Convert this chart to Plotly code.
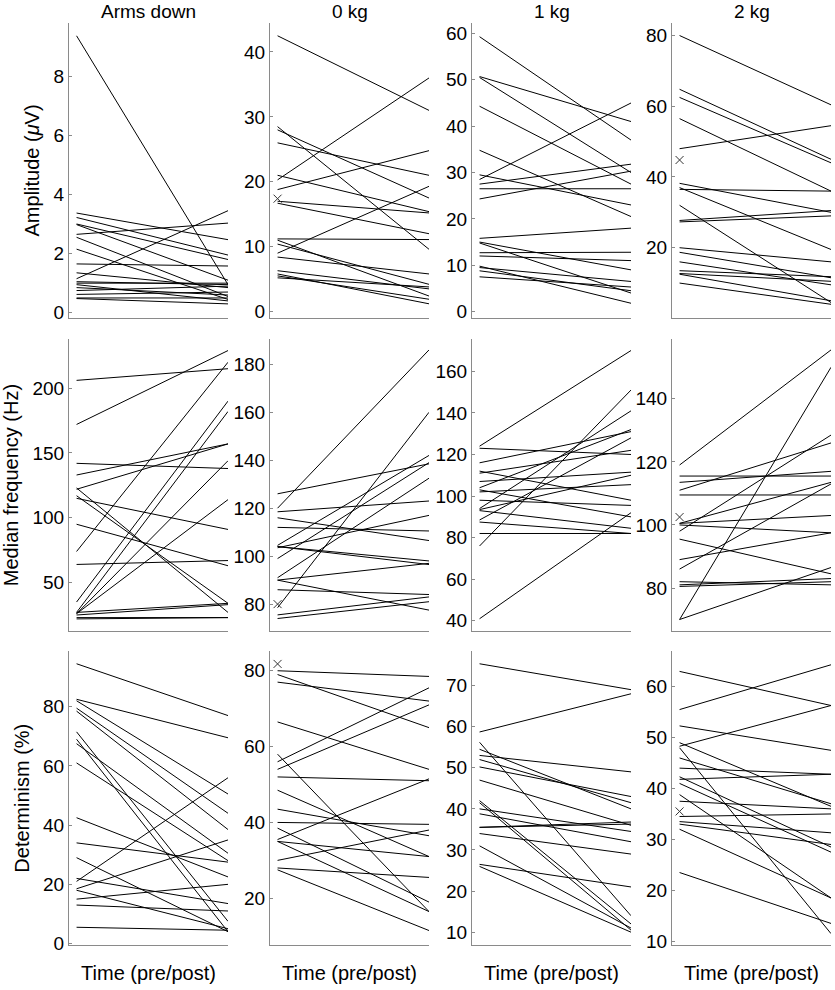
import plotly.graph_objects as go
from plotly.subplots import make_subplots

conditions = ["Arms down", "0 kg", "1 kg", "2 kg"]
measures = ["Amplitude (<i>μ</i>V)", "Median frequency (Hz)", "Determinism (%)"]

# Amplitude, pre / post per subject
amp_arms_pre = [9.36, 3.37, 3.22, 3.0, 2.98, 2.65, 2.55, 2.15, 1.65, 1.35, 1.15, 1.05, 1.0, 0.95, 0.85, 0.75, 0.62, 0.5, 0.48]
amp_arms_post = [0.95, 2.47, 1.95, 1.8, 1.1, 3.03, 0.55, 0.45, 1.58, 0.85, 3.45, 0.95, 1.0, 0.4, 0.6, 0.9, 0.7, 0.5, 0.3]
amp_0kg_pre = [42.5, 20.3, 28.5, 28.0, 26.0, 21.0, 18.8, 17.0, 16.7, 11.2, 11.0, 10.4, 9.0, 8.4, 6.3, 5.8, 5.5, 5.2]
amp_0kg_post = [31.0, 36.0, 9.6, 17.5, 21.0, 15.4, 24.8, 15.2, 12.0, 11.1, 2.4, 4.2, 19.3, 5.8, 3.5, 1.2, 1.9, 3.8]
amp_1kg_pre = [59.3, 50.7, 50.5, 44.3, 34.8, 29.5, 28.5, 27.5, 26.5, 24.3, 15.8, 15.0, 14.8, 12.7, 12.0, 9.8, 9.5, 8.8, 7.5]
amp_1kg_post = [37.0, 41.0, 30.0, 27.5, 20.5, 23.0, 45.0, 31.8, 26.5, 30.3, 18.0, 9.0, 4.0, 12.8, 11.0, 1.8, 6.5, 4.5, 5.3]
amp_2kg_pre = [80.0, 64.8, 62.5, 56.5, 48.0, 38.2, 37.0, 36.5, 27.7, 27.3, 32.0, 20.0, 18.7, 16.0, 13.5, 12.7, 12.5, 10.0]
amp_2kg_post = [60.4, 45.0, 44.0, 36.0, 54.5, 30.0, 19.5, 36.0, 30.5, 29.0, 4.5, 16.0, 11.5, 9.5, 11.8, 10.5, 5.0, 4.0]

# Median frequency (Hz)
mf_arms_pre = [206, 172, 142, 133, 122, 123, 117, 115, 95, 74, 64, 35, 27, 26, 26, 27, 25, 23, 22]
mf_arms_post = [215, 229, 138, 157, 157, 27, 34, 91, 63, 220, 67, 190, 182, 144, 114, 34, 33, 23, 23]
mf_0kg_pre = [120, 126, 118.5, 116, 112, 104.5, 104, 104, 103.5, 99, 91, 90, 90, 86, 78.5, 75.5, 74]
mf_0kg_post = [186, 138.5, 123, 106.5, 110.5, 142, 98, 96.5, 117, 139, 132.5, 97, 77.5, 84, 160, 83, 81]
mf_1kg_pre = [124, 123, 116, 112, 111, 107, 104, 103, 102, 98, 94, 93.5, 93, 88.5, 87.5, 82, 76, 41]
mf_1kg_post = [170, 120, 131, 98, 122, 111.5, 132, 90, 105.5, 95.5, 141, 110, 84.5, 128, 82, 82, 151, 92]
mf_2kg_pre = [119, 115.5, 113.5, 111, 109.5, 100.5, 100.5, 100, 98, 95.5, 89, 86, 82, 81, 80.5, 70, 70]
mf_2kg_post = [155.5, 115.5, 117, 126, 109.5, 113.5, 103, 97.5, 128.5, 84.5, 97.5, 113, 81, 83, 82, 150, 86.5]

# Determinism (%)
det_arms_pre = [94.5, 82.5, 82, 79.5, 78.5, 71.5, 69, 67.5, 61, 42.5, 34, 29, 22, 21, 18.5, 18, 15, 13, 5.5]
det_arms_post = [77, 69.5, 50.5, 44, 38.5, 7.5, 4, 30.5, 28, 22.5, 27.5, 4, 13.5, 56, 35, 5, 20, 11, 4.5]
det_0kg_pre = [80, 79, 77, 66.5, 58, 56, 54, 52, 48.5, 43.5, 40, 38.5, 35.5, 35, 35, 30, 28, 27.5]
det_0kg_post = [78.5, 65, 72, 54, 16.5, 75.5, 71, 51, 31, 36.5, 39.5, 19, 51.5, 31, 16.5, 38, 25.5, 11.5]
det_1kg_pre = [75.3, 58.7, 56.2, 54.5, 53, 52, 50.2, 47, 42, 41.5, 40, 38.8, 35.5, 35.5, 34, 31, 26.5, 26]
det_1kg_post = [69, 68, 14, 40, 49, 41.5, 43, 36, 12, 10.5, 34.5, 32, 36.8, 36.3, 29, 11, 21, 10]
det_2kg_pre = [63, 55.5, 52.3, 49, 48.3, 48, 46, 44, 42.3, 41.8, 41, 38.8, 37.5, 34.5, 33.5, 33, 32, 23.5]
det_2kg_post = [56.3, 64.3, 47.5, 36.5, 56.3, 11.5, 37, 42.8, 28.5, 42.8, 27.5, 18.5, 36, 35, 31.3, 29, 18.5, 13.5]

# single pre values with no post value (drawn as crosses)
crosses = {(1, 2): 17.4, (1, 4): 44.8, (2, 2): 80.0, (2, 4): 102.5, (3, 2): 81.8, (3, 4): 35.5}

panels = [
    [(amp_arms_pre, amp_arms_post), (amp_0kg_pre, amp_0kg_post), (amp_1kg_pre, amp_1kg_post), (amp_2kg_pre, amp_2kg_post)],
    [(mf_arms_pre, mf_arms_post), (mf_0kg_pre, mf_0kg_post), (mf_1kg_pre, mf_1kg_post), (mf_2kg_pre, mf_2kg_post)],
    [(det_arms_pre, det_arms_post), (det_0kg_pre, det_0kg_post), (det_1kg_pre, det_1kg_post), (det_2kg_pre, det_2kg_post)],
]

y_ranges = [
    [[-0.18, 9.8], [-1.0, 44.5], [-1.4, 62.3], [0.1, 83.6]],
    [[12.5, 238], [68.7, 190.6], [35, 175.6], [66.3, 159]],
    [[-0.6, 98.8], [7.6, 85.2], [6.8, 78.4], [9.2, 67]],
]
y_dticks = [[2, 10, 10, 20], [50, 20, 20, 20], [20, 20, 10, 10]]

W, H = 835, 990
col_px = [(69, 228), (270, 429), (472, 631), (672, 831)]
row_px = [(23, 321), (342, 637), (657, 954)]

fig = make_subplots(rows=3, cols=4)
font = "Liberation Sans, Arial, sans-serif"
axis_grey = "#8a8a8a"

for r in range(3):
    for c in range(4):
        pre, post = panels[r][c]
        xs, ys = [], []
        for a, b in zip(pre, post):
            xs += [1, 2, None]
            ys += [a, b, None]
        fig.add_trace(go.Scatter(x=xs, y=ys, mode="lines", line=dict(color="black", width=1),
                                 showlegend=False, hoverinfo="skip"), row=r + 1, col=c + 1)
        if (r + 1, c + 1) in crosses:
            fig.add_trace(go.Scatter(x=[1], y=[crosses[(r + 1, c + 1)]], mode="markers",
                                     marker=dict(symbol="x-thin", size=8, line=dict(width=1, color="#333")),
                                     showlegend=False), row=r + 1, col=c + 1)

        idx = r * 4 + c + 1
        xa = "xaxis" if idx == 1 else f"xaxis{idx}"
        ya = "yaxis" if idx == 1 else f"yaxis{idx}"
        x0, x1 = col_px[c]
        y0, y1 = row_px[r]
        fig.layout[xa].update(
            domain=[x0 / W, x1 / W], range=[0.95, 2.0], showticklabels=False, ticks="",
            showgrid=False, zeroline=False, showline=True, linecolor=axis_grey, linewidth=1,
            title=dict(text="Time (pre/post)" if r == 2 else "", font=dict(size=20, color="black"), standoff=20),
        )
        fig.layout[ya].update(
            domain=[1 - y1 / H, 1 - y0 / H], range=y_ranges[r][c], dtick=y_dticks[r][c], tick0=0,
            showgrid=False, zeroline=False, showline=True, linecolor=axis_grey, linewidth=1,
            ticks="inside", ticklen=3, tickcolor=axis_grey,
            tickfont=dict(size=19, color="black"),
            title=dict(text=measures[r] if c == 0 else "", font=dict(size=20, color="black"), standoff=8),
        )

for c, name in enumerate(conditions):
    x0, x1 = col_px[c]
    fig.add_annotation(x=(x0 + x1) / 2 / W, y=1 - 12 / H, xref="paper", yref="paper", text=name,
                       xanchor="center", yanchor="middle", showarrow=False,
                       font=dict(size=19, color="black"))

fig.update_layout(width=W, height=H, margin=dict(l=0, r=0, t=0, b=0),
                  plot_bgcolor="white", paper_bgcolor="white", font=dict(family=font, color="black"))

fig.write_html("out.html", config={"displayModeBar": False},
               post_script="document.body.style.margin='0';")
